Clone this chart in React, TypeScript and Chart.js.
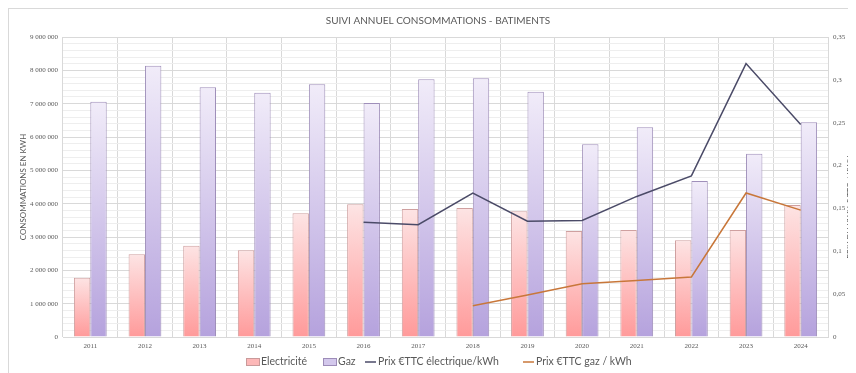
import React, { useEffect, useRef } from "react";
import { Chart, registerables } from "chart.js";

Chart.register(...registerables);

const years = ["2011", "2012", "2013", "2014", "2015", "2016", "2017", "2018", "2019", "2020", "2021", "2022", "2023", "2024"];
const electricite = [1780000, 2480000, 2740000, 2600000, 3710000, 3980000, 3840000, 3870000, 3770000, 3180000, 3210000, 2900000, 3210000, 3960000];
const gaz = [7060000, 8140000, 7490000, 7330000, 7580000, 7020000, 7730000, 7760000, 7360000, 5780000, 6290000, 4680000, 5500000, 6440000];
const prixElec = [null, null, null, null, null, 0.134, 0.131, 0.168, 0.135, 0.136, 0.164, 0.188, 0.319, 0.248];
const prixGaz = [null, null, null, null, null, null, null, 0.0365, 0.049, 0.062, 0.066, 0.07, 0.168, 0.148];

const titleText = "SUIVI ANNUEL CONSOMMATIONS - BATIMENTS";
const leftAxisTitle = "CONSOMMATIONS EN KWH";
const rightAxisTitle = "PRIX DU KWH € TTC / KWH";
const legendLabels = ["Electricité", "Gaz", "Prix €TTC électrique/kWh", "Prix €TTC gaz / kWh"];

const TEXT = "#595959";
const SANS = "Lato, 'Open Sans', sans-serif";
const SERIF = "'Liberation Serif', serif";

const W = 847;
const H = 364;

function barGradient(top: string, bottom: string) {
  return (ctx: any) => {
    const chart = ctx.chart;
    const y = chart.scales && chart.scales.y;
    if (ctx.type !== "data" || !chart.chartArea || !y) return bottom;
    const yTop = y.getPixelForValue(ctx.raw);
    const yBot = y.getPixelForValue(0);
    if (!isFinite(yTop) || !isFinite(yBot) || yTop === yBot) return bottom;
    const g = chart.ctx.createLinearGradient(0, yTop, 0, yBot);
    g.addColorStop(0, top);
    g.addColorStop(1, bottom);
    return g;
  };
}

const fmtThousands = (v: number) => String(Math.round(v)).replace(/\B(?=(\d{3})+(?!\d))/g, " ");
const fmtPrice = (v: number) => String(Math.round(v * 100) / 100).replace(".", ",");

const decorations = {
  id: "decorations",
  afterDraw(chart: any) {
    const { ctx, chartArea } = chart;
    ctx.save();
    ctx.fillStyle = TEXT;
    ctx.textBaseline = "middle";

    // Title
    ctx.font = `10px ${SANS}`;
    ctx.textAlign = "center";
    ctx.fillText(titleText, 429, 12);

    // Axis titles, both reading bottom to top
    const midY = (chartArea.top + chartArea.bottom) / 2;
    ctx.font = `8px ${SANS}`;
    ctx.save();
    ctx.translate(14, midY);
    ctx.rotate(-Math.PI / 2);
    ctx.fillText(leftAxisTitle, 0, 0);
    ctx.restore();
    ctx.save();
    ctx.translate(841, 198);
    ctx.rotate(-Math.PI / 2);
    ctx.fillText(rightAxisTitle, 0, 0);
    ctx.restore();

    // Legend
    ctx.font = `10.5px ${SANS}`;
    ctx.textAlign = "left";
    const ly = 353;
    const starts = [237, 314, 356, 514];
    let prevEnd = 0;
    legendLabels.forEach((label, i) => {
      let x = Math.max(starts[i], prevEnd + 6);
      if (i < 2) {
        const fill = i === 0 ? "#fdb8b8" : "#d3c8ec";
        const stroke = i === 0 ? "#c99a9a" : "#9d8cb8";
        ctx.fillStyle = fill;
        ctx.fillRect(x + 0.5, ly - 3.5, 13, 7);
        ctx.strokeStyle = stroke;
        ctx.lineWidth = 1;
        ctx.strokeRect(x + 0.5, ly - 3.5, 13, 7);
        x += 15;
      } else {
        ctx.strokeStyle = i === 2 ? "#4b4b68" : "#c8773a";
        ctx.lineWidth = 1.5;
        ctx.beginPath();
        ctx.moveTo(x, ly);
        ctx.lineTo(x + 11, ly);
        ctx.stroke();
        x += 13;
      }
      ctx.fillStyle = TEXT;
      ctx.fillText(label, x, ly);
      prevEnd = x + ctx.measureText(label).width;
    });
    ctx.restore();
  },
};

export default function App() {
  const canvasRef = useRef<HTMLCanvasElement | null>(null);

  useEffect(() => {
    const prevOverflow = document.body.style.overflow;
    document.body.style.overflow = "hidden";
    const canvas = canvasRef.current;
    if (!canvas) return;
    const chart = new Chart(canvas, {
      type: "bar",
      data: {
        labels: years,
        datasets: [
          {
            type: "bar",
            label: legendLabels[0],
            data: electricite,
            backgroundColor: barGradient("#fde4e4", "#ff9a9a"),
            borderColor: "#cfa0a0",
            borderWidth: 1,
            yAxisID: "y",
            order: 2,
          },
          {
            type: "bar",
            label: legendLabels[1],
            data: gaz,
            backgroundColor: barGradient("#f1ecf9", "#b5a2dd"),
            borderColor: "#9f8fba",
            borderWidth: 1,
            yAxisID: "y",
            order: 2,
          },
          {
            type: "line",
            label: legendLabels[2],
            data: prixElec,
            borderColor: "#4b4b68",
            backgroundColor: "#4b4b68",
            borderWidth: 1.5,
            pointRadius: 0,
            tension: 0,
            spanGaps: false,
            yAxisID: "y1",
            order: 0,
          },
          {
            type: "line",
            label: legendLabels[3],
            data: prixGaz,
            borderColor: "#c8773a",
            backgroundColor: "#c8773a",
            borderWidth: 1.5,
            pointRadius: 0,
            tension: 0,
            spanGaps: false,
            yAxisID: "y1",
            order: 0,
          },
        ],
      } as any,
      options: {
        responsive: false,
        animation: false,
        devicePixelRatio: 1,
        layout: { padding: { top: 28, left: 0, right: 0, bottom: 0 } },
        plugins: {
          legend: { display: false },
          title: { display: false },
          tooltip: { enabled: false },
        },
        datasets: {
          bar: { categoryPercentage: 0.6, barPercentage: 1 },
        },
        scales: {
          x: {
            offset: true,
            grid: { color: "#d9d9d9", offset: true, drawTicks: false },
            border: { color: "#d9d9d9" },
            ticks: { color: TEXT, font: { family: SERIF, size: 7 }, padding: 5, maxRotation: 0, autoSkip: false },
            afterFit: (s: any) => {
              s.height = 36;
            },
          },
          y: {
            position: "left",
            min: 0,
            max: 9000000,
            grid: {
              drawTicks: false,
              color: (c: any) => (c.tick && c.tick.value % 1000000 === 0 ? "#d9d9d9" : "#eeeeee"),
            },
            border: { display: false },
            ticks: {
              stepSize: 200000,
              autoSkip: false,
              padding: 5,
              color: TEXT,
              font: { family: SERIF, size: 7 },
              callback: (v: any) => (Number(v) % 1000000 === 0 ? fmtThousands(Number(v)) : ""),
            },
            afterFit: (s: any) => {
              s.width = 54;
            },
          },
          y1: {
            position: "right",
            min: 0,
            max: 0.35,
            grid: { display: false, drawTicks: false },
            border: { display: false },
            ticks: {
              stepSize: 0.05,
              autoSkip: false,
              padding: 5,
              color: TEXT,
              font: { family: SERIF, size: 7 },
              callback: (v: any) => fmtPrice(Number(v)),
            },
            afterFit: (s: any) => {
              s.width = 28;
            },
          },
        },
      } as any,
      plugins: [decorations],
    });
    return () => {
      chart.destroy();
      document.body.style.overflow = prevOverflow;
    };
  }, []);

  return (
    <div
      style={{
        width: W + 1,
        height: H + 1,
        borderTop: "1px solid #d9d9d9",
        borderLeft: "1px solid #d9d9d9",
        background: "#ffffff",
        boxSizing: "border-box",
        overflow: "hidden",
      }}
    >
      <canvas ref={canvasRef} width={W} height={H} style={{ display: "block", width: W, height: H }} />
    </div>
  );
}
